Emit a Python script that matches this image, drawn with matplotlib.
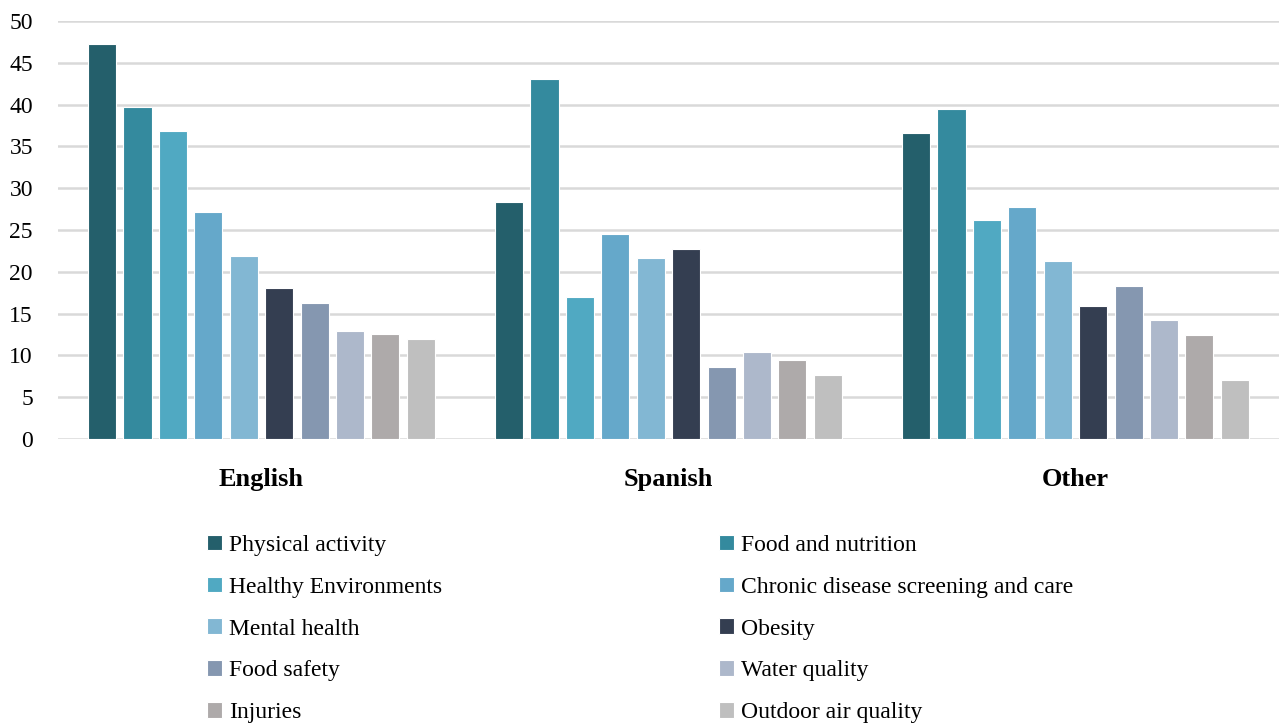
import numpy as np
import matplotlib
matplotlib.use("Agg")
import matplotlib.pyplot as plt

# categories on the x axis
groups = ["English", "Spanish", "Other"]

topics = ["Physical activity", "Food and nutrition", "Healthy Environments",
          "Chronic disease screening and care", "Mental health", "Obesity",
          "Food safety", "Water quality", "Injuries", "Outdoor air quality"]

# one list per topic: English, Spanish, Other
physical_activity = [47.2, 28.4, 36.6]
food_nutrition = [39.7, 43.1, 39.5]
healthy_env = [36.8, 17.0, 26.2]
chronic_disease = [27.2, 24.5, 27.8]
mental_health = [21.9, 21.6, 21.3]
obesity = [18.1, 22.7, 15.9]
food_safety = [16.3, 8.6, 18.3]
water_quality = [12.9, 10.4, 14.2]
injuries = [12.6, 9.4, 12.4]
outdoor_air = [12.0, 7.7, 7.1]

series = [physical_activity, food_nutrition, healthy_env, chronic_disease,
          mental_health, obesity, food_safety, water_quality, injuries, outdoor_air]

colors = ["#245F6B", "#348A9E", "#50A9C2", "#65A8CA", "#82B7D3",
          "#343E51", "#8597B0", "#ADB8CB", "#AEAAAA", "#BFBFBF"]

plt.rcParams['font.family'] = ['Liberation Serif', 'DejaVu Serif']

fig = plt.figure(figsize=(12.85, 7.26), dpi=100)
ax = fig.add_axes([0.0451, 0.3953, 0.9502, 0.5758])

x = np.arange(len(groups))
step = 0.087
width = 0.069
n = len(series)
handles = []
for i, (vals, c) in enumerate(zip(series, colors)):
    off = (i - (n - 1) / 2) * step
    b = ax.bar(x + off, vals, width, color=c, edgecolor="white",
               linewidth=0.8, label=topics[i], zorder=3)
    handles.append(b)

ax.set_xlim(-0.5, 2.5)
ax.set_ylim(0, 50)
ax.set_yticks(np.arange(0, 51, 5))
ax.yaxis.grid(True, color="#D9D9D9", linewidth=1.8, zorder=0)
ax.set_axisbelow(True)
for s in ax.spines.values():
    s.set_visible(False)
ax.tick_params(axis="y", length=0, pad=18, labelsize=17, colors="black")
ax.tick_params(axis="x", length=0, pad=21)
ax.set_xticks(x)
ax.set_xticklabels(groups, fontsize=19, fontweight="bold")

# legend laid out row by row, two columns
leg_kw = dict(frameon=False, fontsize=17, loc="center left", borderpad=0,
              borderaxespad=0, handlelength=0.64, handleheight=0.64,
              handletextpad=0.3, labelspacing=0.88)
left_h = handles[0::2]
right_h = handles[1::2]
fig.legend(left_h, topics[0::2], bbox_to_anchor=(0.1611, 0.1336), **leg_kw)
fig.legend(right_h, topics[1::2], bbox_to_anchor=(0.5595, 0.1336), **leg_kw)

fig.savefig("out.png", dpi=100)
